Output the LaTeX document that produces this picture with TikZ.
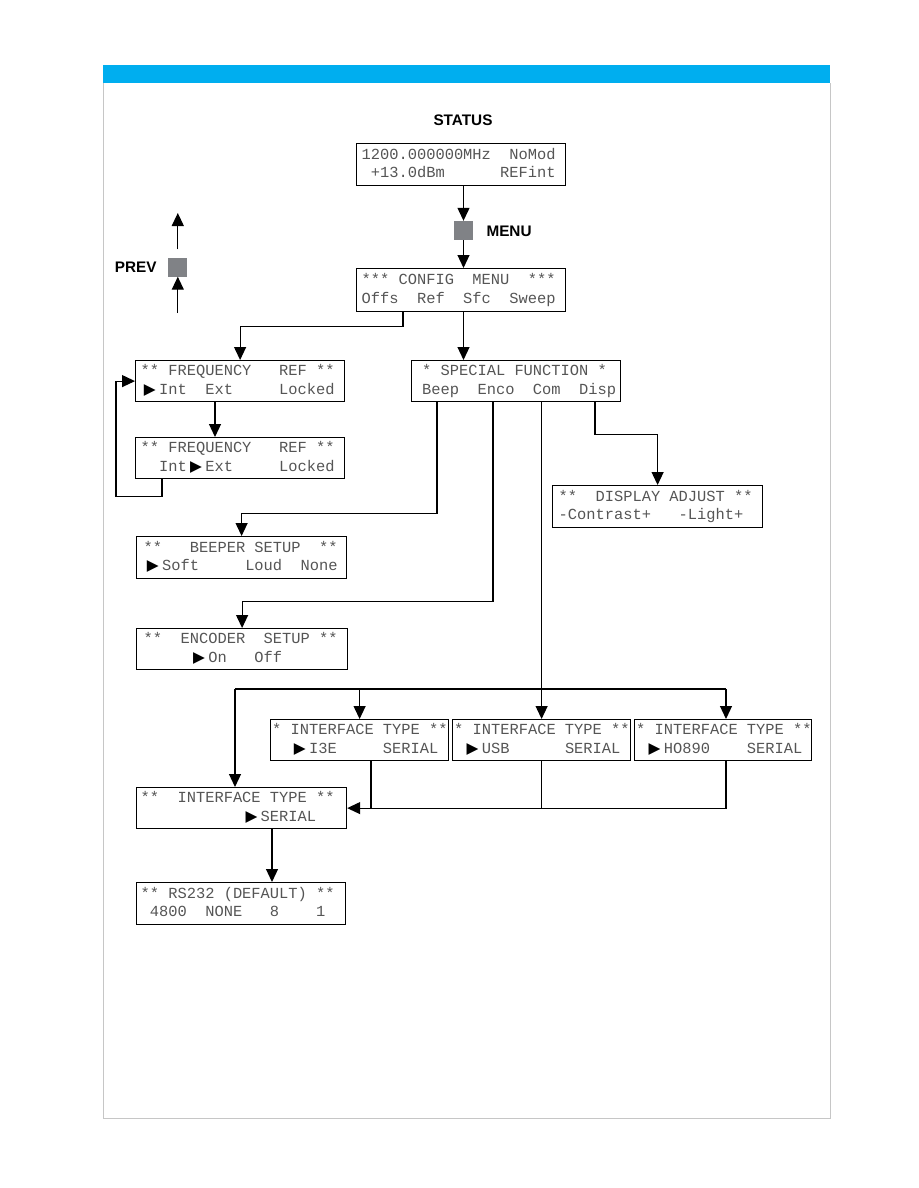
\documentclass[tikz,border=0pt]{standalone}
\usepackage{fontspec}
\setmonofont{Liberation Mono}
\newfontfamily\markfont{DejaVu Sans}
\newfontfamily\labelfont{Liberation Sans}
\usepackage{tikz}
\usetikzlibrary{positioning,arrows.meta,calc}
\definecolor{barblue}{RGB}{0,174,239}
\definecolor{keygray}{RGB}{128,130,134}
\definecolor{lcdtext}{RGB}{85,85,85}
\newcommand{\lcdfont}{\ttfamily\fontsize{15.4}{18.5}\selectfont}
\newcommand{\selmark}{\makebox[1.2em]{\color{black}\markfont ▶}}
\newcommand{\lcd}[8]{\node[lcd,text width=#4pt,minimum height=#5pt] (#1) at (#2,#3) {\strut\hspace*{#6pt}#7\\\strut\hspace*{#6pt}#8};}
\tikzset{
  lcd/.style={draw,line width=1.2pt,anchor=north west,inner xsep=0pt,inner ysep=0pt,
    align=flush left,font=\lcdfont,text=lcdtext},
  key/.style={fill=keygray,minimum size=19pt,inner sep=0pt},
  keylabel/.style={font=\labelfont\bfseries\fontsize{15.3}{18}\selectfont},
  arr/.style={line width=1.2pt,-{Triangle[width=12pt,length=13pt]}},
  wire/.style={line width=1.2pt}
}
\begin{document}
\begin{tikzpicture}[x=1pt,y=-1pt]
\useasboundingbox (0,0) rectangle (918,1188);
\fill[barblue] (103,65) rectangle (830,83);
\draw[gray!45,line width=1pt] (103,83) -- (103,1118) -- (830,1118) -- (830,83);

\node[keylabel] (statuslbl) at (463,120) {STATUS};
\lcd{status}{356}{143}{209}{42}{5}{1200.000000MHz~~NoMod}{~+13.0dBm~~~~~~REFint}
\node[key] (menukey) at (463.5,230.5) {};
\node[keylabel,anchor=west] (menulbl) at (483,231) {MENU};
\lcd{config}{356}{268}{209}{43}{5}{***~CONFIG~~MENU~~***}{Offs~~Ref~~Sfc~~Sweep}

\node[key] (prevkey) at (177.8,267) {};
\node[keylabel,anchor=east] (prevlbl) at (160,267) {PREV};
\coordinate (prevtop) at (177.8,213);
\coordinate (prevbot) at (177.8,313);

\lcd{freq1}{135}{360}{209}{41}{5}{**~FREQUENCY~~~REF~**}{\selmark Int~~Ext~~~~~Locked}
\lcd{freq2}{135}{437}{209}{41}{5}{**~FREQUENCY~~~REF~**}{~~Int\selmark Ext~~~~~Locked}
\lcd{special}{411}{360}{209}{41}{10.5}{*~SPECIAL~FUNCTION~*}{Beep~~Enco~~Com~~Disp}
\lcd{display}{552}{485}{210}{42}{6}{**~~DISPLAY~ADJUST~**}{-Contrast+~~~-Light+}
\lcd{beeper}{136}{536}{210}{42}{7}{**~~~BEEPER~SETUP~~**}{\selmark Soft~~~~~Loud~~None}
\lcd{encoder}{136}{628}{211}{41}{7}{**~~ENCODER~~SETUP~**}{~~~~~\selmark On~~~Off}
\lcd{i3e}{270}{719}{178}{41}{1.5}{*~INTERFACE~TYPE~**}{~~\selmark I3E~~~~~SERIAL}
\lcd{usb}{452}{719}{178}{41}{1.5}{*~INTERFACE~TYPE~**}{~\selmark USB~~~~~~SERIAL}
\lcd{ho890}{634}{719}{177}{41}{1.5}{*~INTERFACE~TYPE~**}{~\selmark HO890~~~~SERIAL}
\lcd{serial}{136}{787}{210}{41}{4}{**~~INTERFACE~TYPE~**}{~~~~~~~~~~~\selmark SERIAL}
\lcd{rs232}{136}{882}{209}{42}{4}{**~RS232~(DEFAULT)~**}{~4800~~NONE~~~8~~~~1}
\coordinate (bus) at (541,689);
\coordinate (busl) at ([xshift=99pt]serial.north west |- bus);
\coordinate (busr) at ([xshift=92pt]ho890.north west |- bus);

\draw[arr] (status.south -| menukey) -- (menukey.north);
\draw[arr] (menukey.south) -- (config.north -| menukey);
\draw[arr] ([yshift=8pt]prevkey.north) -- (prevtop);
\draw[arr] (prevbot) -- (prevkey.south);
\draw[arr] ([xshift=47pt]config.south west) -- ++(0,14) -| (freq1.north);
\draw[arr] (config.south -| menukey) -- (special.north -| menukey);
\draw[arr] ([xshift=80pt]freq1.south west) -- ([xshift=80pt]freq2.north west);
\draw[arr] ([xshift=27pt]freq2.south west) -- ++(0,17) -- ++(-46,0) |- (freq1.west);
\draw[arr] ([xshift=26pt]special.south west) -- ++(0,111) -| (beeper.north);
\draw[arr] ([xshift=82pt]special.south west) -- ++(0,199) -| (encoder.north);
\draw[arr] ([xshift=184pt]special.south west) -- ++(0,32) -| (display.north);
\draw[arr] (special.south -| usb.north) -- (usb.north);
\draw[wire] (busl) -- (busr);
\draw[arr] (busl) -- ([xshift=99pt]serial.north west);
\draw[arr] (i3e.north |- bus) -- (i3e.north);
\draw[arr] (busr) -- ([xshift=92pt]ho890.north west);
\draw[arr] ([xshift=92pt]ho890.south west) |- (serial.east);
\draw[wire] (usb.south) -- (usb.south |- serial.east);
\draw[wire] ([xshift=101pt]i3e.south west) -- ([xshift=101pt]i3e.south west |- serial.east);
\draw[arr] ([xshift=136pt]serial.south west) -- ([xshift=136pt]rs232.north west);
\end{tikzpicture}
\end{document}
